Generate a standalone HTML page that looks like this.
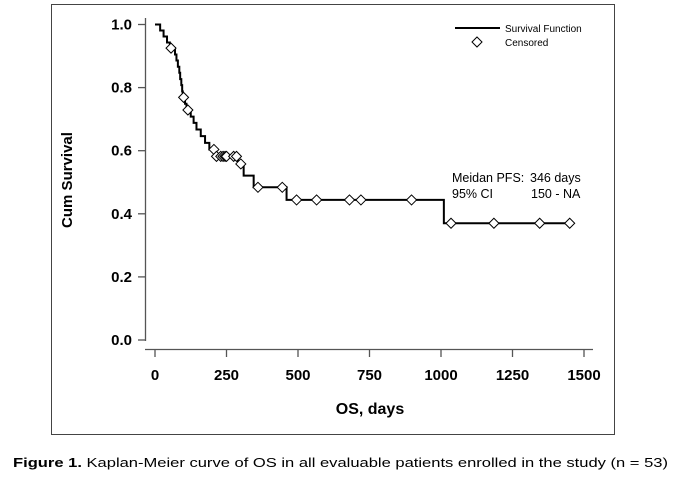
<!DOCTYPE html>
<html><head><meta charset="utf-8"><style>
body{margin:0;background:#fff;}
svg{display:block;font-family:"Liberation Sans",Arial,sans-serif;}
</style></head><body>
<svg width="679" height="478" viewBox="0 0 679 478">
<rect x="51.5" y="4.5" width="563" height="430" fill="none" stroke="#444" stroke-width="1"/>
<g id="axes"></g>
<g id="curve"></g>
<g id="censors"></g>
<text x="72" y="180" transform="rotate(-90 72 180)" text-anchor="middle" font-size="15" font-weight="bold">Cum Survival</text>
<text x="370" y="414" text-anchor="middle" font-size="16" font-weight="bold">OS, days</text>
<g>
<line x1="455" y1="28" x2="500" y2="28" stroke="#000" stroke-width="2"/>
<text x="505" y="32" font-size="10">Survival Function</text>
<path d="M477 37 L482 42 L477 47 L472 42 Z" fill="#fff" stroke="#000" stroke-width="1"/>
<text x="505" y="46" font-size="10">Censored</text>
</g>
<g>
<text x="452" y="182" font-size="12.5">Meidan PFS:</text>
<text x="530" y="182" font-size="12.5">346 days</text>
<text x="452" y="198" font-size="12.5">95% CI</text>
<text x="531" y="198" font-size="12.5">150 - NA</text>
</g>
<text x="13" y="467" font-size="13" textLength="655" lengthAdjust="spacingAndGlyphs"><tspan font-weight="bold">Figure 1.</tspan> Kaplan-Meier curve of OS in all evaluable patients enrolled in the study (n = 53)</text>
</svg>
<script>
const stepTimes=[0,18,30,42,52,70,75,80,85,88,92,95,97,105,110,125,135,145,160,175,190,210,290,310,345,460,1010];
const stepSurv=[1.0,0.981,0.962,0.943,0.925,0.905,0.886,0.866,0.847,0.827,0.808,0.788,0.769,0.749,0.729,0.708,0.688,0.667,0.646,0.625,0.604,0.582,0.558,0.521,0.484,0.444,0.370];
const endTime=1455;
const censorTimes=[56,100,115,206,215,230,238,245,250,275,285,300,360,445,495,565,680,720,897,1035,1185,1345,1450];
const xTicks=[0,250,500,750,1000,1250,1500];
const yTicks=[0.0,0.2,0.4,0.6,0.8,1.0];
const NS='http://www.w3.org/2000/svg';
const xs=t=>155+t*(429/1500);
const ys=s=>340-s*315.5;
function mk(tag,attrs,parent){const e=document.createElementNS(NS,tag);for(const k in attrs)e.setAttribute(k,attrs[k]);parent.appendChild(e);return e;}
const axes=document.getElementById('axes');
let a=mk('line',{x1:145.5,y1:18,x2:145.5,y2:341,stroke:'#555','stroke-width':1.3},axes);


a=mk('line',{x1:145,y1:349.5,x2:593,y2:349.5,stroke:'#555','stroke-width':1.3},axes);


yTicks.forEach(v=>{const y=ys(v);
 const l=mk('line',{x1:138,y1:y,x2:145,y2:y,stroke:'#555','stroke-width':1.3},axes);
 
 
 const t=mk('text',{x:132,y:y+5,'text-anchor':'end','font-size':15,'font-weight':'bold'},axes);
 t.textContent=v.toFixed(1);
 
 
});
xTicks.forEach(v=>{const x=xs(v);
 const l=mk('line',{x1:x,y1:350,x2:x,y2:357,stroke:'#555','stroke-width':1.3},axes);
 
 
 const t=mk('text',{x:x,y:380,'text-anchor':'middle','font-size':15,'font-weight':'bold'},axes);
 t.textContent=v;
 
 
});
let d='M'+xs(stepTimes[0])+' '+ys(stepSurv[0]);
for(let i=1;i<stepTimes.length;i++){d+=' H'+xs(stepTimes[i])+' V'+ys(stepSurv[i]);}
d+=' H'+xs(endTime);
const p=mk('path',{d:d,fill:'none',stroke:'#000','stroke-width':2},document.getElementById('curve'));


function survAt(t){let s=stepSurv[0];for(let i=0;i<stepTimes.length;i++){if(stepTimes[i]<=t)s=stepSurv[i];}return s;}
const cg=document.getElementById('censors');
censorTimes.forEach(t=>{const x=xs(t),y=ys(survAt(t));
 const m=mk('path',{d:`M${x} ${y-5} L${x+5} ${y} L${x} ${y+5} L${x-5} ${y} Z`,fill:'#fff',stroke:'#000','stroke-width':1},cg);
 
 
});
</script>
</body></html>
